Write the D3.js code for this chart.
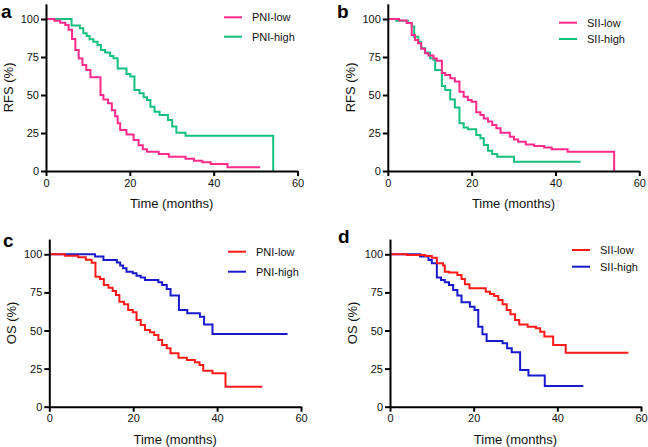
<!DOCTYPE html>
<html>
<head>
<meta charset="utf-8">
<script src="https://cdn.jsdelivr.net/npm/d3@7"></script>
<style>
  html, body { margin: 0; padding: 0; background: #fff; }
  svg { display: block; font-family: "Liberation Sans", Arial, Helvetica, sans-serif; }
</style>
</head>
<body>
<svg id="chart" width="648" height="447"></svg>
<script>
// ---- data ----
const xTicks = [0, 20, 40, 60];
const yTicks = [0, 25, 50, 75, 100];

// Panel a: RFS by PNI
const pniLowRfsT = [0, 2.0, 3.4, 4.6, 5.4, 6.2, 7.0, 7.8, 8.7, 9.6, 10.6, 13.0, 13.7, 14.8, 15.7, 16.5, 17.1, 17.7, 19.2, 20.9, 22.1, 23.1, 24.1, 26.9, 29.3, 33.3, 35.3, 37.3, 39.3, 43.3, 51.1];
const pniLowRfsS = [100, 98.9, 97.6, 96, 93, 86.8, 79.6, 74, 69.7, 66.4, 61.6, 50, 47, 44.5, 40, 36, 31.4, 27, 24, 20.4, 17, 14.3, 12.7, 11.2, 9.4, 8.1, 6.8, 5.7, 4.6, 2.4, 2.4];
const pniHighRfsT = [0, 6.1, 8.1, 8.9, 9.7, 10.4, 11.3, 12.3, 13.1, 14.1, 15.3, 16.1, 17.1, 19.2, 20.1, 21.1, 22.3, 23.3, 24.1, 24.9, 25.9, 27.1, 29.1, 30.1, 31.1, 33.3, 54.2, 54.2];
const pniHighRfsS = [100, 95.8, 93.9, 90.6, 88.8, 86.6, 85.1, 82.9, 79.6, 77.9, 75.7, 74.1, 67.5, 63.8, 62.1, 53.3, 51.1, 48.5, 46.7, 42.3, 39, 36.8, 33.6, 29.2, 25.2, 23.2, 23.2, 0];

// Panel b: RFS by SII
const siiLowRfsT = [0, 2.7, 4.5, 5.7, 6.5, 7.2, 8.0, 8.9, 9.7, 10.9, 11.7, 12.9, 13.7, 14.9, 16.0, 17.1, 18.1, 19.1, 20.0, 21.1, 22.1, 22.9, 23.9, 24.9, 25.9, 26.9, 29.1, 30.1, 31.1, 32.9, 34.9, 37.3, 39.1, 42.9, 54, 54];
const siiLowRfsS = [100, 99, 97.3, 89.5, 86.2, 84, 80.5, 77.5, 76, 74, 72.5, 64.5, 63.2, 61, 58.8, 52.2, 48.9, 46.7, 45.6, 38.6, 36.8, 34.6, 32.5, 30.3, 28.1, 25.2, 22.6, 20.8, 19.3, 17.5, 16.4, 15.4, 14.3, 12.7, 12.7, 0];
const siiHighRfsT = [0, 2.0, 4.8, 5.7, 6.3, 7.3, 7.9, 8.9, 10.1, 10.9, 11.3, 12.9, 13.7, 14.9, 16.0, 17.1, 18.1, 19.1, 21.1, 22.1, 22.9, 23.9, 24.9, 26.1, 30.1, 46];
const siiHighRfsS = [100, 98.9, 97.3, 95, 88.4, 85, 80.7, 78, 74.1, 73, 66.4, 56, 53.3, 47.1, 41.7, 31.4, 28.7, 27.4, 23.7, 21.5, 17.1, 13.4, 11.2, 9.4, 6.1, 6.1];

// Panel c: OS by PNI
const pniLowOsT = [0, 3.7, 6.9, 8.7, 10.1, 11.0, 12.1, 13, 14.1, 15.1, 15.9, 16.7, 17.8, 18.8, 19.9, 20.8, 21.8, 22.8, 24, 25, 26, 26.9, 28, 28.9, 30.8, 32.8, 34.7, 35.8, 36.7, 38.9, 42, 50.8];
const pniLowOsS = [100, 99, 98, 96.5, 94.5, 85.3, 83.8, 79.9, 78.1, 75.9, 73.3, 68.9, 67.2, 63.5, 61.9, 56.9, 53.6, 50.3, 48.8, 47, 43.8, 40.5, 38.3, 35, 32.2, 30.6, 29.1, 27.4, 23.6, 21.9, 13.1, 13.1];
const pniHighOsT = [0, 10.9, 12.9, 16.1, 16.9, 17.6, 18.4, 19.9, 20.8, 21.8, 22.8, 26, 26.9, 28, 28.9, 30.9, 32.9, 35.9, 36.9, 38.9, 56.8];
const pniHighOsS = [100, 98.5, 96.3, 94.7, 92.6, 90.8, 88.6, 87.5, 86, 84.7, 83.2, 81.6, 79.9, 77.2, 72.9, 63.5, 61.3, 59.1, 54, 47.7, 47.7];

// Panel d: OS by SII
const siiLowOsT = [0, 4, 8.4, 10, 11.2, 12.7, 13.1, 14.1, 16.1, 17.1, 17.9, 19, 22.9, 23.9, 24.9, 25.9, 26.9, 27.9, 28.8, 29.9, 30.9, 32.9, 34.9, 35.9, 36.9, 39, 42, 57];
const siiLowOsS = [100, 99.5, 98.9, 97.8, 94.1, 92.6, 88.6, 88, 86.4, 83.8, 80.3, 77.7, 75.5, 74, 72.6, 70, 67.2, 63.5, 60.6, 56.9, 54, 52.5, 51.4, 49.2, 46, 40.5, 35.4, 35.4];
const siiHighOsT = [0, 7.2, 9.2, 10, 11.2, 12.2, 13.1, 14.1, 15.1, 16.1, 17.1, 19.1, 20.2, 21.1, 22.1, 23.1, 26.9, 28, 29.1, 31.1, 33.1, 37, 46.2];
const siiHighOsS = [100, 98.5, 96.3, 94.1, 84.7, 83.2, 81.6, 79.9, 76.6, 72.9, 68.5, 65.6, 63.5, 52.5, 47.5, 43.1, 41.6, 38.3, 35.7, 24.1, 20.4, 13.6, 13.6];

const labelsPNI = ["PNI-low", "PNI-high"];
const labelsSII = ["SII-low", "SII-high"];

// ---- styles / layout ----
const PINK = "#ff2a8c", GREEN = "#14c07e", RED = "#ff1a1a", BLUE = "#1a1acc";

const panels = [
  { tag: "a", x0: 46, x1: 297.5, y0: 171, y100: 19, ytitle: "RFS (%)", tagPos: [1, 18],
    legend: { x: 224, ys: [17.3, 36.7] }, names: labelsPNI, colors: [PINK, GREEN],
    low: [pniLowRfsT, pniLowRfsS], high: [pniHighRfsT, pniHighRfsS] },
  { tag: "b", x0: 387.8, x1: 639.3, y0: 171, y100: 19, ytitle: "RFS (%)", tagPos: [337, 18],
    legend: { x: 559, ys: [22.7, 39] }, names: labelsSII, colors: [PINK, GREEN],
    low: [siiLowRfsT, siiLowRfsS], high: [siiHighRfsT, siiHighRfsS] },
  { tag: "c", x0: 49.3, x1: 301, y0: 406.7, y100: 254.3, ytitle: "OS (%)", tagPos: [3, 247],
    legend: { x: 228, ys: [251.7, 271.7] }, names: labelsPNI, colors: [RED, BLUE],
    low: [pniLowOsT, pniLowOsS], high: [pniHighOsT, pniHighOsS] },
  { tag: "d", x0: 390, x1: 641, y0: 406.7, y100: 254.3, ytitle: "OS (%)", tagPos: [338, 243],
    legend: { x: 572, ys: [250, 266.7] }, names: labelsSII, colors: [RED, BLUE],
    low: [siiLowOsT, siiLowOsS], high: [siiHighOsT, siiHighOsS] }
];

const svg = d3.select("#chart");

panels.forEach(p => {
  const yTop = p.y0 - (p.y0 - p.y100) * 1.1;
  const x = d3.scaleLinear().domain([0, 60]).range([p.x0, p.x1]);
  const y = d3.scaleLinear().domain([0, 110]).range([p.y0, yTop]);
  const g = svg.append("g");

  const line = d3.line().curve(d3.curveStepAfter).x(d => x(d[0])).y(d => y(d[1]));
  const toPts = (arr) => arr[0].map((t, i) => [t, arr[1][i]]);

  // high first, low on top
  g.append("path").attr("d", line(toPts(p.high))).attr("fill", "none")
    .attr("stroke", p.colors[1]).attr("stroke-width", 2);
  g.append("path").attr("d", line(toPts(p.low))).attr("fill", "none")
    .attr("stroke", p.colors[0]).attr("stroke-width", 2);

  // axes
  const xAxis = d3.axisBottom(x).tickValues(xTicks).tickSize(5).tickSizeOuter(0).tickPadding(3);
  const yAxis = d3.axisLeft(y).tickValues(yTicks).tickSize(5).tickSizeOuter(0).tickPadding(2);
  const gx = g.append("g").attr("transform", `translate(0,${p.y0})`).call(xAxis);
  const gy = g.append("g").attr("transform", `translate(${p.x0},0)`).call(yAxis);
  [gx, gy].forEach(a => {
    a.selectAll("path, line").attr("stroke", "#000").attr("stroke-width", 2);
    a.selectAll("text").attr("font-size", 11).attr("fill", "#111")
      .attr("font-family", "'Liberation Sans', Arial, sans-serif");
  });

  // titles
  g.append("text").attr("x", (p.x0 + p.x1) / 2).attr("y", p.y0 + 37)
    .attr("text-anchor", "middle").attr("font-size", 13).attr("fill", "#111").text("Time (months)");
  g.append("text").attr("transform", `translate(${p.x0 - 33},${(p.y0 + yTop) / 2}) rotate(-90)`)
    .attr("text-anchor", "middle").attr("font-size", 13).attr("fill", "#111").text(p.ytitle);

  // panel tag
  g.append("text").attr("x", p.tagPos[0]).attr("y", p.tagPos[1])
    .attr("font-size", 19).attr("font-weight", "bold").attr("fill", "#000").text(p.tag);

  // legend
  p.names.forEach((n, i) => {
    const ly = p.legend.ys[i];
    g.append("line").attr("x1", p.legend.x).attr("x2", p.legend.x + 18)
      .attr("y1", ly).attr("y2", ly).attr("stroke", p.colors[i]).attr("stroke-width", 2);
    g.append("text").attr("x", p.legend.x + 28).attr("y", ly).attr("dy", "0.35em")
      .attr("font-size", 11).attr("fill", "#111").text(n);
  });
});
</script>
</body>
</html>
